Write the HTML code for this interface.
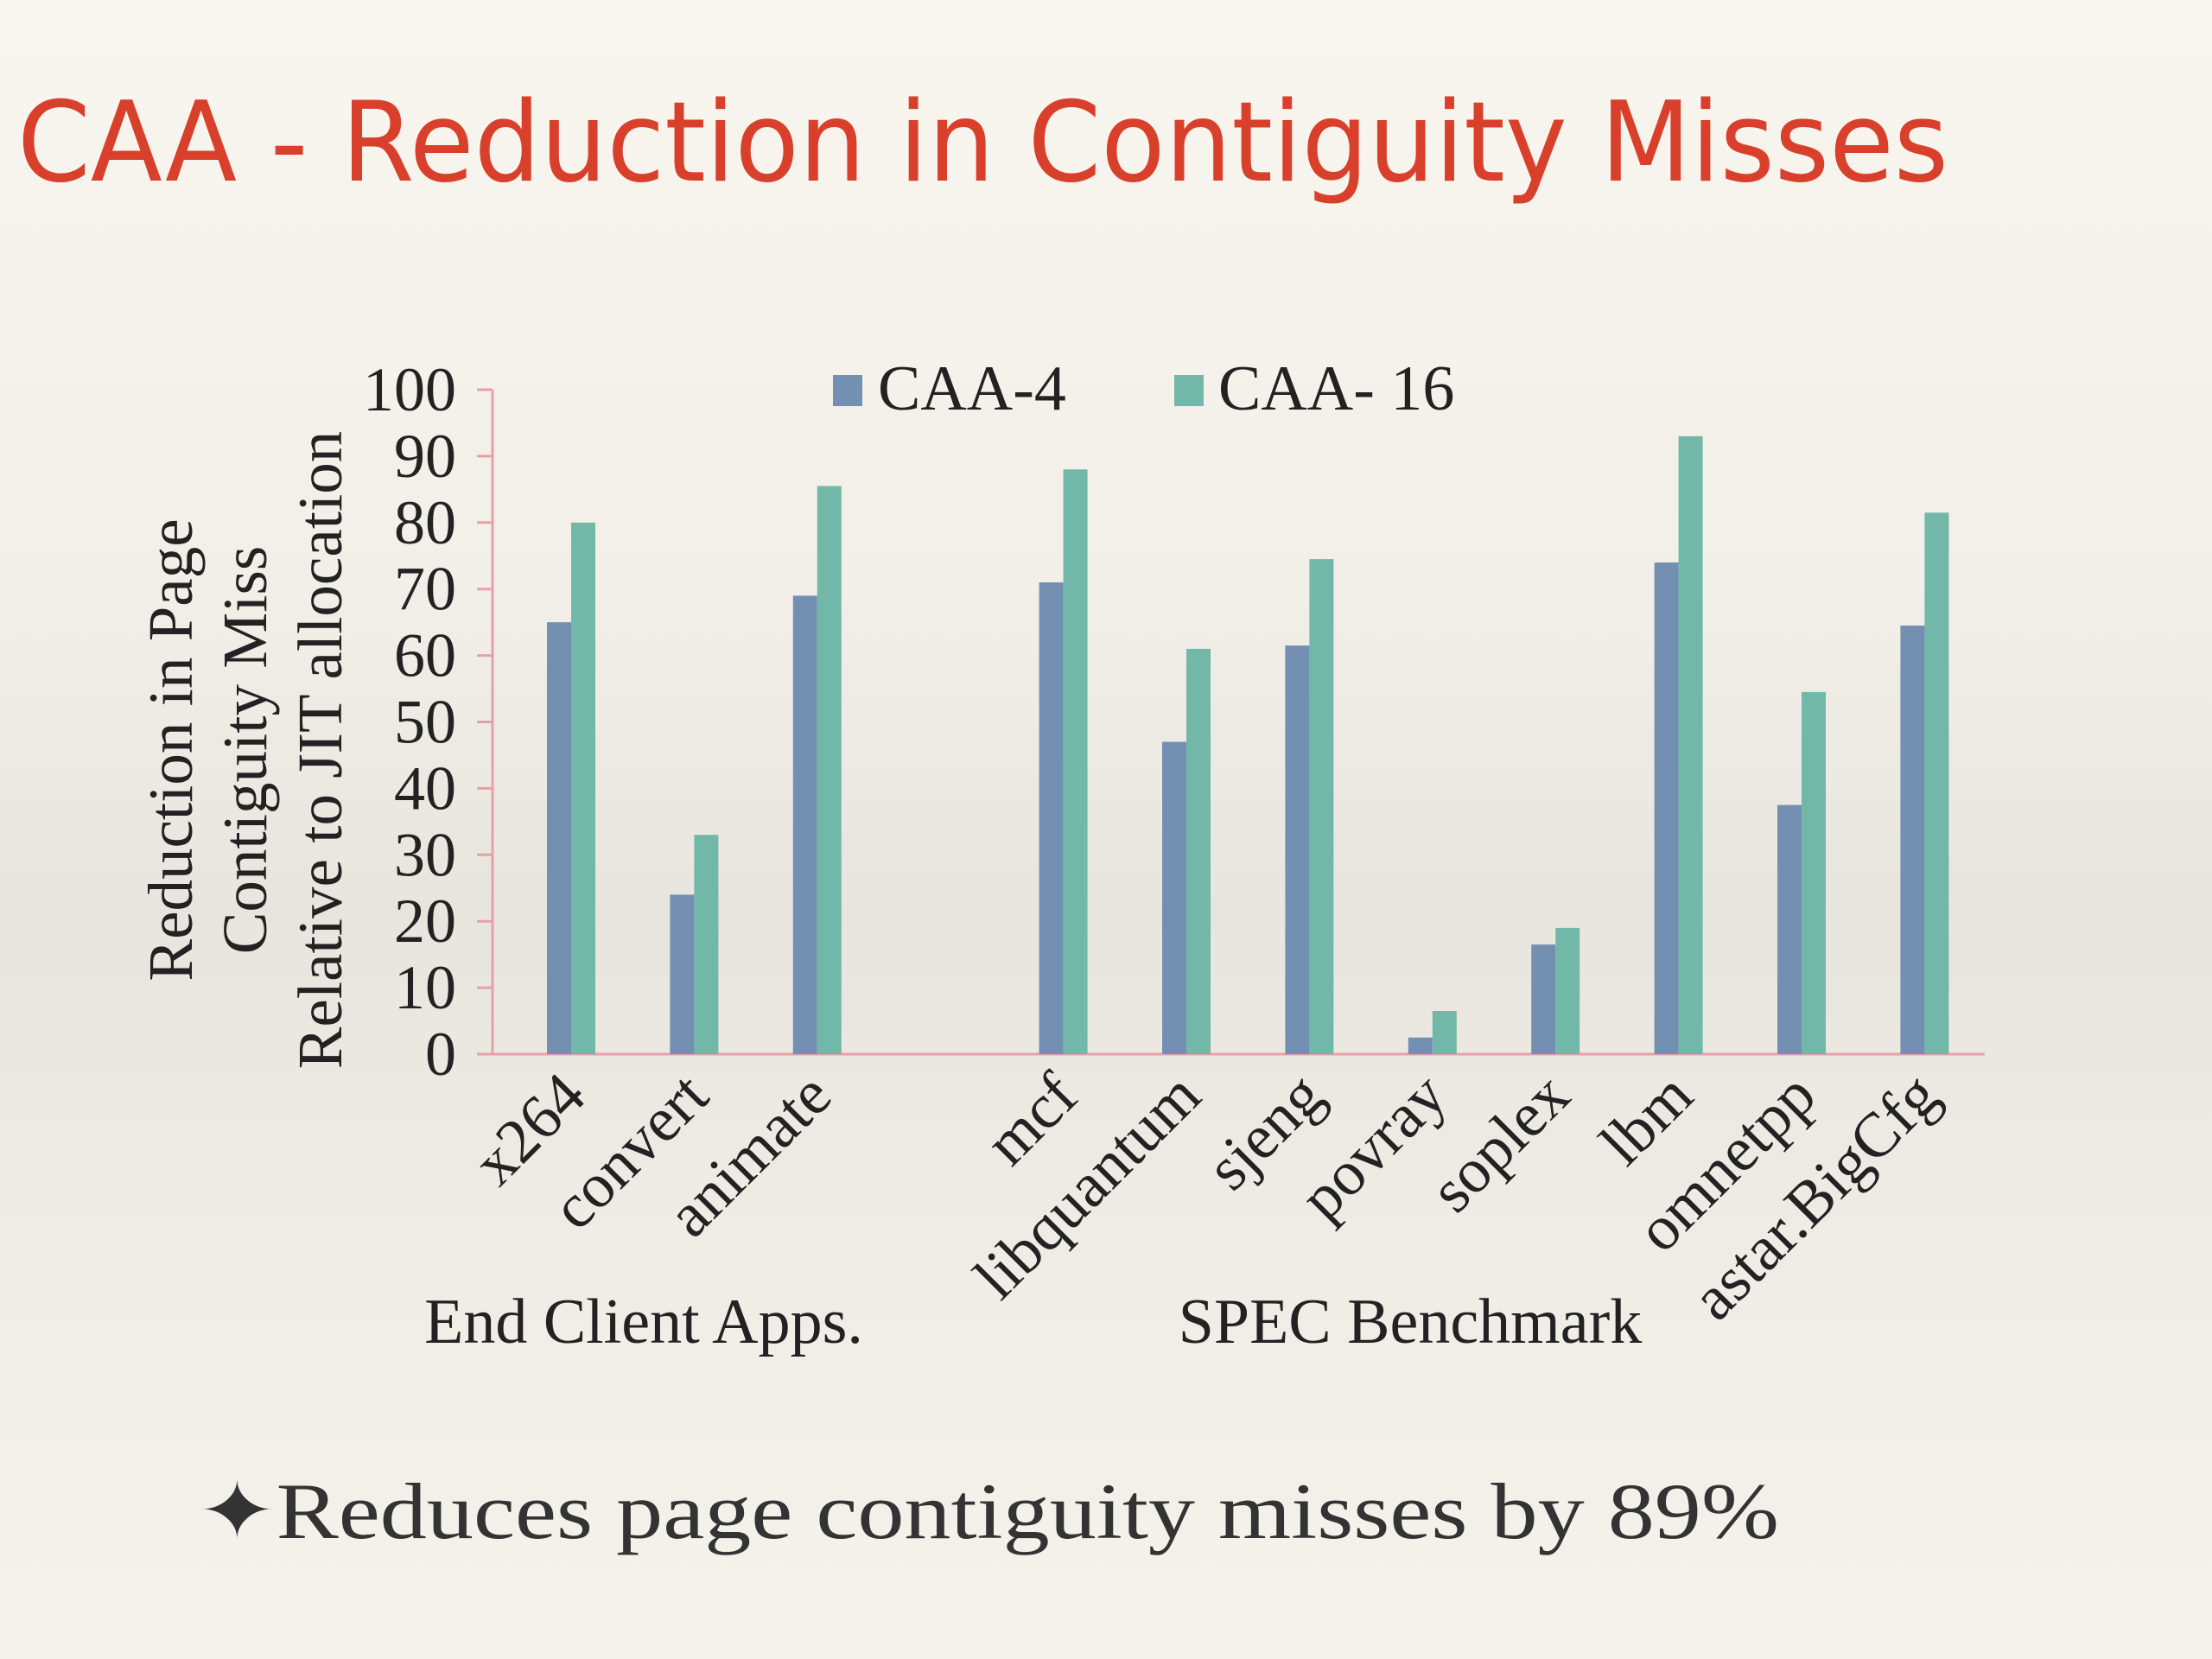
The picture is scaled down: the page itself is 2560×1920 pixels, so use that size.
<!DOCTYPE html>
<html><head><meta charset="utf-8"><style>
html,body{margin:0;padding:0;width:2560px;height:1920px;overflow:hidden}
body{background:linear-gradient(180deg,#f8f6ef 0%,#f2efe8 35%,#e8e5de 55%,#efece5 75%,#f5f3ec 100%)}
svg{display:block}
</style></head><body>
<svg id="chart" width="2560" height="1920" viewBox="0 0 2560 1920" xmlns="http://www.w3.org/2000/svg">
<text x="20" y="209" font-family="'DejaVu Sans','Liberation Sans',sans-serif" font-size="128" fill="#d9402b" textLength="2235" lengthAdjust="spacingAndGlyphs">CAA - Reduction in Contiguity Misses</text>
<g font-family="'Liberation Serif',serif" font-size="73" fill="#222" text-anchor="middle">
<text transform="translate(222,868) rotate(-90)">Reduction in Page</text>
<text transform="translate(308,868) rotate(-90)">Contiguity Miss</text>
<text transform="translate(395,868) rotate(-90)">Relative to JIT allocation</text>
</g>
<g id="axes"></g>
<g id="bars"></g>
<g id="labels"></g>
<g font-family="'Liberation Serif',serif" font-size="74" fill="#222">
<rect x="964" y="434" width="34" height="36" fill="#7390b3"/>
<text x="1016" y="474">CAA-4</text>
<rect x="1359" y="434" width="34" height="36" fill="#72b8a8"/>
<text x="1410" y="474">CAA- 16</text>
</g>
<g font-family="'Liberation Serif',serif" font-size="74" fill="#222" text-anchor="middle">
<text x="745" y="1554">End Client Apps.</text>
<text x="1632" y="1554">SPEC Benchmark</text>
</g>
<text x="229" y="1780" font-family="'Liberation Serif',serif" font-size="92" fill="#333" textLength="1830" lengthAdjust="spacingAndGlyphs">✦Reduces page contiguity misses by 89%</text>
</svg>
<script>
const categories=["x264","convert","animate","mcf","libquantum","sjeng","povray","soplex","lbm","omnetpp","astar.BigCfg"];
const slots=[0,1,2,4,5,6,7,8,9,10,11];
const caa4=[65,24,69,71,47,61.5,2.5,16.5,74,37.5,64.5];
const caa16=[80,33,85.5,88,61,74.5,6.5,19,93,54.5,81.5];
const yTicks=[0,10,20,30,40,50,60,70,80,90,100];
const NS="http://www.w3.org/2000/svg";
const X0=570,X1=2297,Y0=1220,Y100=451,FIRST=661,STEP=142.4,BW=28;
function y(v){return Y0-(v/100)*(Y0-Y100);}
function xc(s){return FIRST+s*STEP;}
function mk(tag,attrs,parent){const e=document.createElementNS(NS,tag);for(const k in attrs)e.setAttribute(k,attrs[k]);parent.appendChild(e);return e;}
const axes=document.getElementById('axes'),bars=document.getElementById('bars'),labels=document.getElementById('labels');
let a=mk('line',{x1:X0,y1:Y100,x2:X0,y2:Y0,stroke:'#e8a0a8','stroke-width':3},axes);


let b=mk('line',{x1:X0-18,y1:Y0,x2:X1,y2:Y0,stroke:'#e8a0a8','stroke-width':3},axes);


yTicks.forEach(t=>{
  let tk=mk('line',{x1:X0-18,y1:y(t),x2:X0,y2:y(t),stroke:'#e8a0a8','stroke-width':3},axes);
  
  
  let tl=mk('text',{x:X0-42,y:y(t)+24,'text-anchor':'end','font-family':"'Liberation Serif',serif",'font-size':72,fill:'#222'},axes);
  tl.textContent=t;
  
  
});
categories.forEach((c,i)=>{
  const cx=xc(slots[i]);
  let r1=mk('rect',{x:cx-BW,y:y(caa4[i]),width:BW,height:Y0-y(caa4[i]),fill:'#7390b3'},bars);
  
  
  let r2=mk('rect',{x:cx,y:y(caa16[i]),width:BW,height:Y0-y(caa16[i]),fill:'#72b8a8'},bars);
  
  
  let t=mk('text',{transform:`translate(${cx+20},1272) rotate(-45)`,'text-anchor':'end','font-family':"'Liberation Serif',serif",'font-size':73,fill:'#222'},labels);
  t.textContent=c;
  
  
});
</script>
</body></html>
